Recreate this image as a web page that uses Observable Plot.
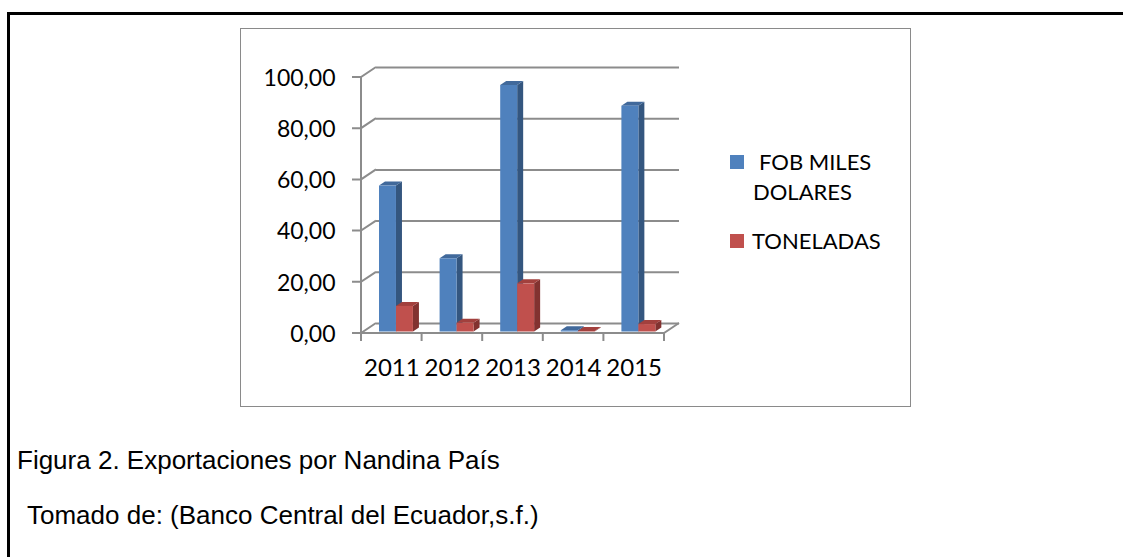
<!DOCTYPE html>
<html>
<head>
<meta charset="utf-8">
<script src="https://cdn.jsdelivr.net/npm/d3@7"></script>
<script src="https://cdn.jsdelivr.net/npm/@observablehq/plot@0.6"></script>
<style>
html, body { margin: 0; padding: 0; background: #fff; }
#page { position: relative; width: 1123px; height: 557px; overflow: hidden; background: #fff; }
#outer { position: absolute; left: 7px; top: 12px; width: 1200px; height: 700px; border-top: 3px solid #000; border-left: 3px solid #000; box-sizing: border-box; }
#inner { position: absolute; left: 240px; top: 28px; width: 671px; height: 379px; border: 1.5px solid #8a8a8a; box-sizing: border-box; }
#chart { position: absolute; left: 0; top: 0; }
.leg { position: absolute; font-family: Lato, "Open Sans", sans-serif; font-size: 22px; color: #000; line-height: 24px; white-space: nowrap; }
.sw { position: absolute; width: 14px; height: 14px; }
.cap { position: absolute; font-family: "Liberation Sans", Arial, sans-serif; font-size: 26px; color: #000; line-height: 26px; white-space: nowrap; }
</style>
</head>
<body>
<div id="page">
  <div id="outer"></div>
  <div id="inner"></div>
  <div id="chart"></div>
  <div class="sw" id="sw0" style="left:730px; top:155px;"></div>
  <div class="leg" id="leg0a" style="left:759px; top:150px;"></div>
  <div class="leg" id="leg0b" style="left:753px; top:180px;"></div>
  <div class="sw" id="sw1" style="left:730px; top:234px;"></div>
  <div class="leg" id="leg1" style="left:752px; top:229px;"></div>
  <div class="cap" id="cap1" style="left:17px; top:447px;"></div>
  <div class="cap" id="cap2" style="left:27px; top:502px;"></div>
</div>
<script>
// ---- data ----
const years = [2011, 2012, 2013, 2014, 2015];
const fobMilesDolares = [57.0, 28.6, 96.3, 0.5, 88.2];
const toneladas = [10.0, 3.4, 18.8, 0.2, 2.9];
const seriesLabels = ["FOB MILES DOLARES", "TONELADAS"];
const yTicks = [0, 20, 40, 60, 80, 100];
const yTickLabels = ["0,00", "20,00", "40,00", "60,00", "80,00", "100,00"];
const captionLines = ["Figura 2. Exportaciones por Nandina País", "Tomado de: (Banco Central del Ecuador,s.f.)"];

// ---- styles ----
const frontColors = ["#4f81bd", "#c0504d"];
const topColors = ["#41699b", "#a2403d"];
const sideColors = ["#34567f", "#823230"];
const gridColor = "#8c8c8c";

const rows = years.flatMap((yr, i) => [
  {year: yr, series: 0, value: fobMilesDolares[i]},
  {year: yr, series: 1, value: toneladas[i]}
]);

const BAR_START = 0.297, BAR_W = 0.28;
const DDX = 6, DDY = -4, LIFT = -1.5;
const WALL_DX = 15, WALL_DY = -10;

function wallsAndFloor(index, scales) {
  const x = scales.x, y = scales.y;
  const g = d3.create("svg:g").attr("fill", "none").attr("stroke", gridColor).attr("stroke-width", 2);
  const X0 = x(years[0] - 0.5), X1 = x(years[years.length - 1] + 0.5);
  const Y0 = y(0);
  for (const v of yTicks) {
    g.append("path").attr("d", `M${X0 - 9},${y(v)}H${X0}L${X0 + WALL_DX},${y(v) + WALL_DY}`);
  }
  g.append("path").attr("d", `M${X0},${y(yTicks[yTicks.length - 1])}V${Y0 + 8}`);
  g.append("path").attr("d", `M${X0},${Y0}H${X1}L${X1 + WALL_DX},${Y0 + WALL_DY}`);
  const bounds = years.map(d => d - 0.5).concat([years[years.length - 1] + 0.5]);
  for (const b of bounds) {
    g.append("path").attr("d", `M${x(b)},${Y0}V${Y0 + 8}`);
  }
  return g.node();
}

function barFaces(index, scales) {
  const x = scales.x, y = scales.y;
  const g = d3.create("svg:g");
  for (const d of rows) {
    const xs = x(d.year - 0.5 + BAR_START + d.series * BAR_W);
    const xe = x(d.year - 0.5 + BAR_START + (d.series + 1) * BAR_W);
    const yt = y(d.value) + LIFT, yb = y(0) + LIFT;
    g.append("path").attr("fill", sideColors[d.series])
      .attr("d", `M${xe},${yb}V${yt}L${xe + DDX},${yt + DDY}V${yb + DDY}Z`);
    g.append("path").attr("fill", topColors[d.series])
      .attr("d", `M${xs},${yt}H${xe}L${xe + DDX},${yt + DDY}H${xs + DDX}Z`);
  }
  return g.node();
}

const chart = Plot.plot({
  width: 1123,
  height: 557,
  marginLeft: 361,
  marginRight: 459,
  marginTop: 77,
  marginBottom: 224,
  style: {background: "transparent", fontFamily: "Lato, 'Open Sans', sans-serif", overflow: "visible"},
  x: {type: "linear", domain: [years[0] - 0.5, years[years.length - 1] + 0.5], axis: null},
  y: {type: "linear", domain: [0, 100], axis: null},
  color: {type: "identity"},
  marks: [
    Plot.ruleY(yTicks, {y: d => d, dx: WALL_DX, dy: WALL_DY, stroke: gridColor, strokeWidth: 2}),
    wallsAndFloor,
    barFaces,
    Plot.rect(rows, {
      x1: d => d.year - 0.5 + BAR_START + d.series * BAR_W,
      x2: d => d.year - 0.5 + BAR_START + (d.series + 1) * BAR_W,
      y1: 0,
      y2: d => d.value,
      dy: LIFT,
      fill: d => frontColors[d.series]
    }),
    Plot.text(yTicks, {y: d => d, text: (d, i) => yTickLabels[i], frameAnchor: "left", dx: -26, dy: 1, textAnchor: "end", fontSize: 23, fill: "#000"}),
    Plot.text(years, {x: d => d, text: d => String(d), frameAnchor: "bottom", dy: 42, fontSize: 24, fill: "#000"})
  ]
});
document.getElementById("chart").appendChild(chart);

document.getElementById("sw0").style.background = frontColors[0];
document.getElementById("sw1").style.background = frontColors[1];
const fobWords = seriesLabels[0].split(" ");
document.getElementById("leg0a").textContent = fobWords.slice(0, 2).join(" ");
document.getElementById("leg0b").textContent = fobWords.slice(2).join(" ");
document.getElementById("leg1").textContent = seriesLabels[1];
document.getElementById("cap1").textContent = captionLines[0];
document.getElementById("cap2").textContent = captionLines[1];
</script>
</body>
</html>
